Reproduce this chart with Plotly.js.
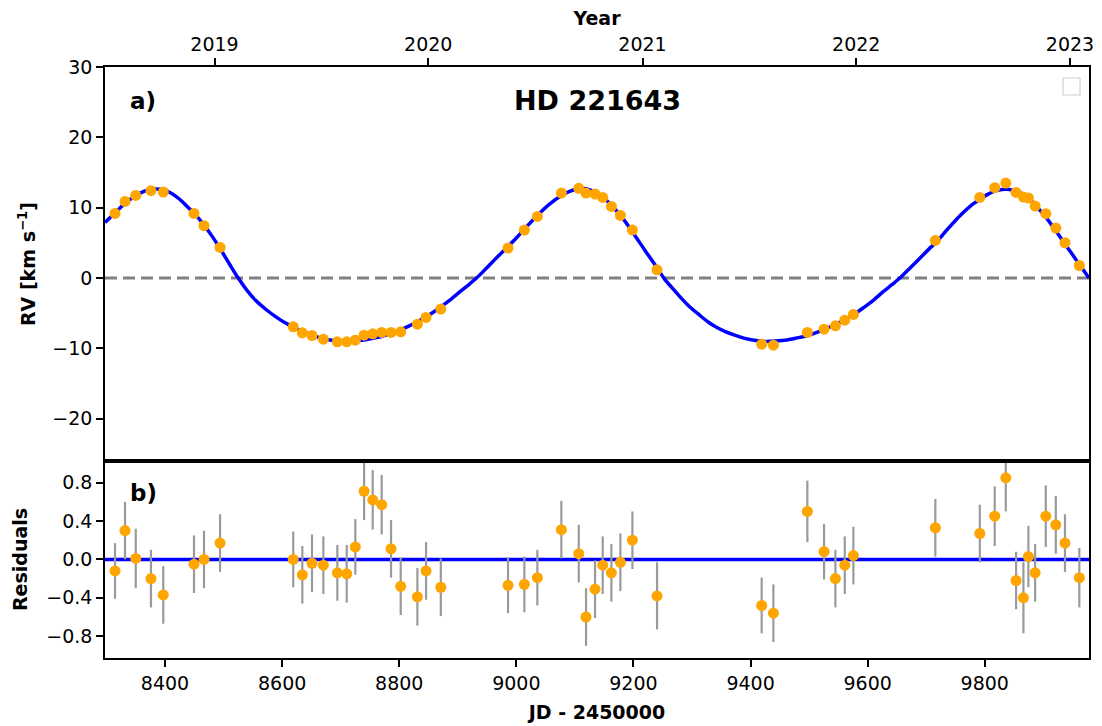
<!DOCTYPE html>
<html>
<head>
<meta charset="utf-8">
<script src="https://cdn.plot.ly/plotly-3.0.1.min.js"></script>
<style>html,body{margin:0;padding:0;background:#fff;}#chart{width:1102px;height:726px;}</style>
</head>
<body>
<div id="chart"></div>
<script>
// Observations (JD - 2450000)
const obsJD = [8314.6, 8331.7, 8350, 8376, 8397, 8449.5, 8466.6, 8494,
  8619, 8634.5, 8651, 8670.4, 8694.3, 8710.3, 8725, 8740, 8754.7, 8770, 8786, 8802.5, 8831, 8845.8, 8871,
  8985.8, 9013.7, 9035.9, 9076.9, 9106.6, 9119, 9134.4, 9147.5, 9162.3, 9177.7, 9198.2, 9240.3,
  9419, 9439, 9497, 9525.5, 9544.9, 9560.9, 9575.6,
  9715.6, 9791.5, 9817, 9835.9, 9853.5, 9866, 9874.5, 9886, 9904.2, 9921.3, 9937, 9961.5];
// Radial velocities [km/s]
const obsRV = [9.19, 10.9, 11.75, 12.42, 12.23, 9.19, 7.44, 4.35,
  -6.93, -7.78, -8.16, -8.68, -9.06, -9.06, -8.82, -8.11, -7.92, -7.73, -7.73, -7.64, -6.55, -5.6, -4.41,
  4.27, 6.83, 8.77, 12.09, 12.75, 12.09, 11.95, 11.47, 10.19, 8.9, 6.83, 1.18,
  -9.39, -9.53, -7.73, -7.26, -6.79, -5.98, -5.17,
  5.35, 11.47, 12.85, 13.51, 12.18, 11.52, 11.38, 10.24, 9.15, 7.11, 5.02, 1.79];
// Residuals [km/s]
const obsRes = [-0.12, 0.30, 0.01, -0.20, -0.37, -0.05, 0.00, 0.17,
  0.00, -0.16, -0.04, -0.06, -0.14, -0.15, 0.13, 0.71, 0.62, 0.57, 0.11, -0.28, -0.39, -0.12, -0.29,
  -0.27, -0.26, -0.19, 0.31, 0.06, -0.60, -0.31, -0.06, -0.14, -0.03, 0.20, -0.38,
  -0.48, -0.56, 0.50, 0.08, -0.20, -0.06, 0.04,
  0.33, 0.27, 0.45, 0.85, -0.22, -0.40, 0.03, -0.14, 0.45, 0.36, 0.17, -0.19];
// Residual uncertainties [km/s]
const obsErr = [0.29, 0.30, 0.31, 0.30, 0.30, 0.30, 0.30, 0.30,
  0.29, 0.30, 0.30, 0.30, 0.29, 0.30, 0.29, 0.30, 0.31, 0.31, 0.30, 0.30, 0.30, 0.30, 0.30,
  0.29, 0.29, 0.29, 0.30, 0.30, 0.30, 0.30, 0.30, 0.30, 0.30, 0.30, 0.35,
  0.29, 0.30, 0.32, 0.29, 0.30, 0.30, 0.30,
  0.30, 0.30, 0.31, 0.35, 0.30, 0.37, 0.32, 0.30, 0.32, 0.30, 0.30, 0.31];
// Orbital model curve
const modelJD = [8297.5, 8315, 8332, 8350, 8365, 8380, 8395, 8410, 8425, 8440, 8450, 8467, 8480, 8494, 8510, 8525,
  8540, 8555, 8573, 8590, 8605, 8619, 8635, 8651, 8670, 8690, 8705, 8720, 8740, 8755, 8770, 8786, 8802, 8817,
  8831, 8846, 8860, 8871, 8887, 8905, 8920, 8932, 8950, 8970, 8986, 9000, 9014, 9036, 9055, 9077, 9090, 9105,
  9119, 9134, 9148, 9162, 9178, 9198, 9220, 9240, 9252, 9265, 9280, 9295, 9312, 9327, 9341, 9357, 9373, 9392,
  9412, 9427, 9442, 9462, 9477, 9497, 9512, 9525, 9545, 9561, 9576, 9593, 9609, 9627, 9642, 9655, 9672, 9690,
  9708, 9716, 9736, 9758, 9777, 9792, 9805, 9817, 9830, 9842, 9854, 9866, 9875, 9886, 9904, 9921, 9937, 9950,
  9962, 9978];
const modelRV = [7.9, 9.3, 10.65, 11.7, 12.35, 12.65, 12.6, 12.1, 11.2, 10.0, 9.2, 7.5, 6.0, 4.2, 2.0, 0.0,
  -1.75, -3.2, -4.5, -5.55, -6.35, -6.95, -7.6, -8.1, -8.6, -8.9, -9.0, -8.95, -8.8, -8.55, -8.3, -7.85, -7.35, -6.8,
  -6.2, -5.5, -4.75, -4.1, -3.1, -1.85, -0.85, 0.0, 1.5, 3.2, 4.5, 5.7, 7.0, 8.9, 10.4, 11.75, 12.3, 12.7,
  12.7, 12.25, 11.5, 10.35, 8.9, 6.6, 3.9, 1.5, 0.0, -1.3, -2.7, -4.0, -5.2, -6.2, -6.95, -7.6, -8.1, -8.6,
  -8.9, -9.0, -8.95, -8.8, -8.55, -8.2, -7.75, -7.3, -6.6, -5.9, -5.2, -4.2, -3.2, -1.9, -0.9, 0.0, 1.4, 2.9,
  4.4, 5.0, 6.9, 8.9, 10.35, 11.2, 11.9, 12.35, 12.6, 12.6, 12.35, 11.9, 11.4, 10.4, 8.7, 6.75, 4.85, 3.3,
  1.9, 0.0];
// Top axis: calendar years (Jan 1 in JD - 2450000)
const yearJD = [8484.5, 8849.5, 9215.5, 9580.5, 9945.5];
const yearLabels = ['2019', '2020', '2021', '2022', '2023'];

const FONT = 'DejaVu Sans, Liberation Sans, sans-serif';
const ORANGE = '#ffa500';
const BLUE = '#0000ff';
const XR = [8297.5, 9978];
const SPLIT = 0.3333;

const traces = [
  {x: modelJD, y: modelRV, xaxis: 'x2', yaxis: 'y', type: 'scatter', mode: 'lines',
   line: {color: BLUE, width: 3.5, shape: 'spline', smoothing: 0.8}, hoverinfo: 'skip', showlegend: false},
  {x: obsJD, y: obsRV, xaxis: 'x2', yaxis: 'y', type: 'scatter', mode: 'markers',
   marker: {color: ORANGE, size: 11}, showlegend: false},
  {x: obsJD, y: obsRes, xaxis: 'x', yaxis: 'y2', type: 'scatter', mode: 'markers',
   marker: {color: ORANGE, size: 11},
   error_y: {type: 'data', array: obsErr, visible: true, color: '#9a9a9a', thickness: 2.2, width: 0},
   showlegend: false},
  {x: [yearJD[0]], y: [null], xaxis: 'x3', yaxis: 'y', type: 'scatter', mode: 'markers', showlegend: false, hoverinfo: 'skip'}
];

const axBase = {
  showline: true, linecolor: '#000', linewidth: 1.5, mirror: true,
  ticks: 'outside', ticklen: 7, tickwidth: 1.5, tickcolor: '#000',
  showgrid: false, zeroline: false,
  tickfont: {family: FONT, size: 19, color: '#000'}
};

const layout = {
  width: 1102, height: 726,
  margin: {l: 105, r: 13, t: 67, b: 68},
  paper_bgcolor: '#fff', plot_bgcolor: '#fff',
  font: {family: FONT, color: '#000'},
  showlegend: false,
  xaxis: Object.assign({}, axBase, {
    domain: [0, 1], anchor: 'y2', range: XR, tick0: 8400, dtick: 200, tickformat: 'd',
    title: {text: '<b>JD - 2450000</b>', font: {family: FONT, size: 19}, standoff: 13}
  }),
  xaxis2: Object.assign({}, axBase, {
    domain: [0, 1], anchor: 'y', range: XR, matches: 'x', showticklabels: false, ticks: ''
  }),
  xaxis3: Object.assign({}, axBase, {
    overlaying: 'x2', side: 'top', anchor: 'y', range: XR, mirror: false,
    tickmode: 'array', tickvals: yearJD, ticktext: yearLabels,
    title: {text: '<b>Year</b>', font: {family: FONT, size: 19}, standoff: 2}
  }),
  yaxis: Object.assign({}, axBase, {
    domain: [SPLIT, 1], anchor: 'x2', range: [-26, 30], tick0: 0, dtick: 10,
    title: {text: '<b>RV [km s<sup>−1</sup>]</b>', font: {family: FONT, size: 19}, standoff: 12}
  }),
  yaxis2: Object.assign({}, axBase, {
    domain: [0, SPLIT], anchor: 'x', range: [-1.027, 1.025], tick0: 0, dtick: 0.4, tickformat: '.1f',
    title: {text: '<b>Residuals</b>', font: {family: FONT, size: 19}, standoff: 14}
  }),
  shapes: [
    {type: 'line', xref: 'paper', x0: 0, x1: 1, yref: 'y', y0: 0, y1: 0, layer: 'below',
     line: {color: '#808080', width: 3, dash: '12px,6px'}},
    {type: 'line', xref: 'paper', x0: 0, x1: 1, yref: 'y2', y0: 0, y1: 0, layer: 'below',
     line: {color: BLUE, width: 3.5}},
    {type: 'rect', xref: 'paper', yref: 'paper', x0: 0.9736, x1: 0.9909, y0: 0.9526, y1: 0.9814,
     line: {color: '#d0d0d0', width: 1.2}, fillcolor: 'rgba(255,255,255,0.8)'}
  ],
  annotations: [
    {text: '<b>a)</b>', xref: 'paper', yref: 'paper', x: 0.0234, y: 0.9425, xanchor: 'left', yanchor: 'middle',
     showarrow: false, font: {family: FONT, size: 23}},
    {text: '<b>HD 221643</b>', xref: 'paper', yref: 'paper', x: 0.5, y: 0.9425, xanchor: 'center', yanchor: 'middle',
     showarrow: false, font: {family: FONT, size: 27}},
    {text: '<b>b)</b>', xref: 'paper', yref: 'paper', x: 0.0234, y: 0.279, xanchor: 'left', yanchor: 'middle',
     showarrow: false, font: {family: FONT, size: 23}}
  ]
};

Plotly.newPlot('chart', traces, layout, {displayModeBar: false, responsive: false});
</script>
</body>
</html>
